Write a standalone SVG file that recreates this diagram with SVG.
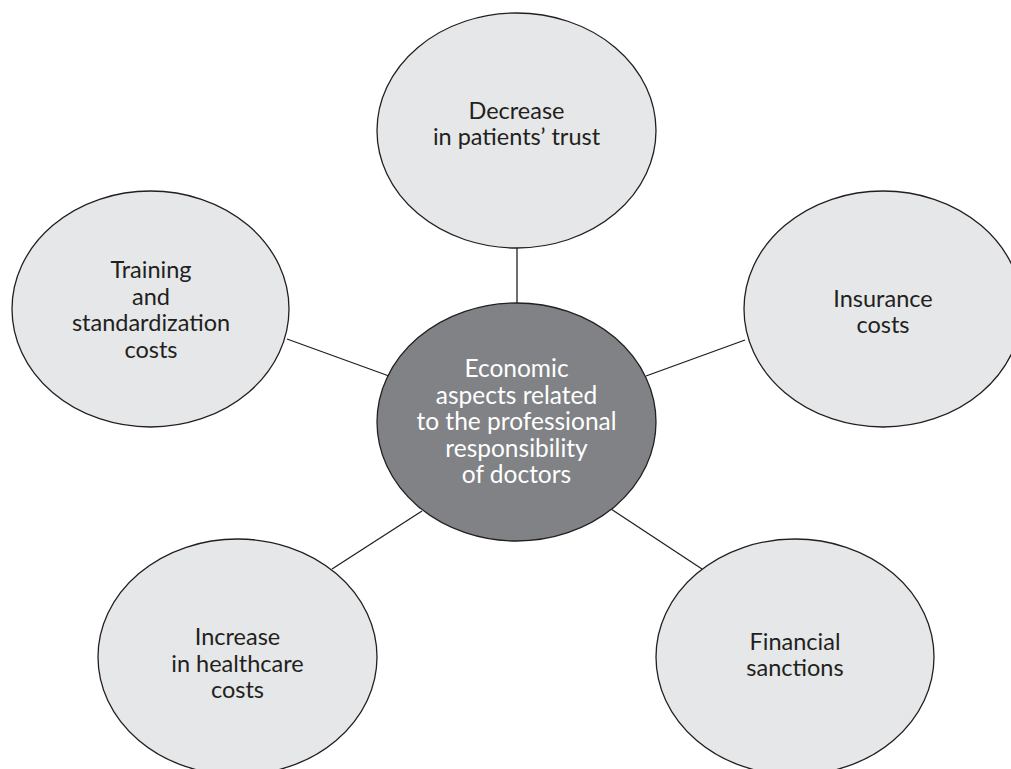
<svg xmlns="http://www.w3.org/2000/svg" width="1011" height="769" viewBox="0 0 1011 769">
  <style>
    .node { fill: #e6e7e8; stroke: #231f20; stroke-width: 1.3; }
    .hub { fill: #808285; stroke: #231f20; stroke-width: 1.3; }
    .link { stroke: #231f20; stroke-width: 1.3; fill: none; }
    text { font-family: Lato, "Open Sans", "Liberation Sans", sans-serif; font-size: 23.5px; text-anchor: middle; fill: #231f20; }
    .hub-label { fill: #ffffff; font-size: 24.5px; }
  </style>
  <rect width="1011" height="769" fill="#ffffff"/>

  <!-- connectors from the central topic to each surrounding factor -->
  <g id="connectors">
    <line class="link" x1="517" y1="248" x2="517" y2="303"/>
    <line class="link" x1="287" y1="339" x2="389" y2="376"/>
    <line class="link" x1="745" y1="340" x2="646" y2="376"/>
    <line class="link" x1="332" y1="569" x2="422" y2="511"/>
    <line class="link" x1="702" y1="569" x2="611" y2="509"/>
  </g>

  <g id="node-trust">
    <ellipse class="node" cx="516.5" cy="130.5" rx="139.5" ry="117.5"/>
    <text x="516.5" y="118.5"><tspan x="516.5">Decrease</tspan><tspan x="516.5" dy="26.5">in patients’ trust</tspan></text>
  </g>

  <g id="node-training">
    <ellipse class="node" cx="150.5" cy="309" rx="138.5" ry="118"/>
    <text x="151" y="278"><tspan x="151">Training</tspan><tspan x="151" dy="26.5">and</tspan><tspan x="151" dy="26.5">standardization</tspan><tspan x="151" dy="26.5">costs</tspan></text>
  </g>

  <g id="node-insurance">
    <ellipse class="node" cx="883" cy="309" rx="139" ry="118"/>
    <text x="883" y="306.5"><tspan x="883">Insurance</tspan><tspan x="883" dy="26.5">costs</tspan></text>
  </g>

  <g id="node-healthcare">
    <ellipse class="node" cx="237.5" cy="657" rx="139.5" ry="118"/>
    <text x="237.5" y="645"><tspan x="237.5">Increase</tspan><tspan x="237.5" dy="26.5">in healthcare</tspan><tspan x="237.5" dy="26.5">costs</tspan></text>
  </g>

  <g id="node-sanctions">
    <ellipse class="node" cx="795" cy="657" rx="139" ry="118"/>
    <text x="795" y="649.5"><tspan x="795">Financial</tspan><tspan x="795" dy="26.5">sanctions</tspan></text>
  </g>

  <g id="node-center">
    <ellipse class="hub" cx="516.5" cy="422" rx="139.5" ry="119"/>
    <text class="hub-label" x="516.5" y="377"><tspan x="516.5">Economic</tspan><tspan x="516.5" dy="26.5">aspects related</tspan><tspan x="516.5" dy="26.5">to the professional</tspan><tspan x="516.5" dy="26.5">responsibility</tspan><tspan x="516.5" dy="26.5">of doctors</tspan></text>
  </g>
</svg>
